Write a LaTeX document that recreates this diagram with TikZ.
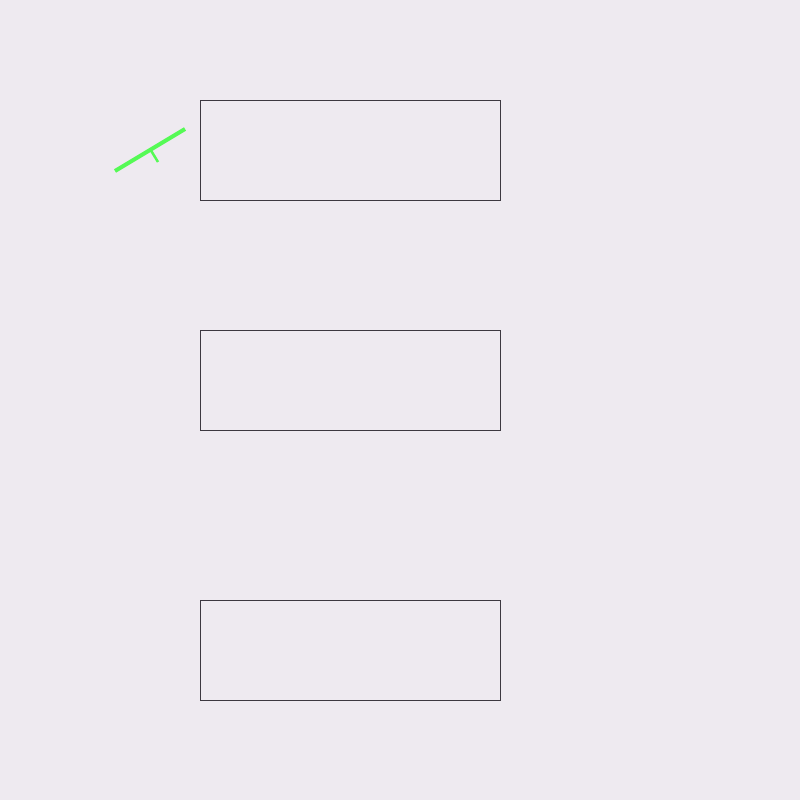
\documentclass[tikz,border=0pt]{standalone}
\definecolor{bg}{RGB}{238,234,240}
\definecolor{edge}{RGB}{60,56,64}
\definecolor{grn}{RGB}{85,250,85}
\tikzset{box/.style={draw=edge,line width=1pt,minimum width=300pt,minimum height=100pt,inner sep=0pt,anchor=north west},
 gline/.style={draw=grn,line width=4pt}}
\begin{document}
\begin{tikzpicture}[x=1pt,y=-1pt]
\fill[bg] (0,0) rectangle (800,800);
\useasboundingbox (0,0) rectangle (800,800);
\node[box] (b1) at (200,100) {};
\node[box] (b2) at (200,330) {};
\node[box] (b3) at (200,600) {};
\coordinate (g1) at (115,171);
\coordinate (g2) at (185,129);
\coordinate (gm) at (151,150.5);
\coordinate (gt) at (158,162);
\draw[gline] (g1) -- (g2);
\draw[grn,line width=2.5pt] (gm) -- (gt);
\end{tikzpicture}
\end{document}
